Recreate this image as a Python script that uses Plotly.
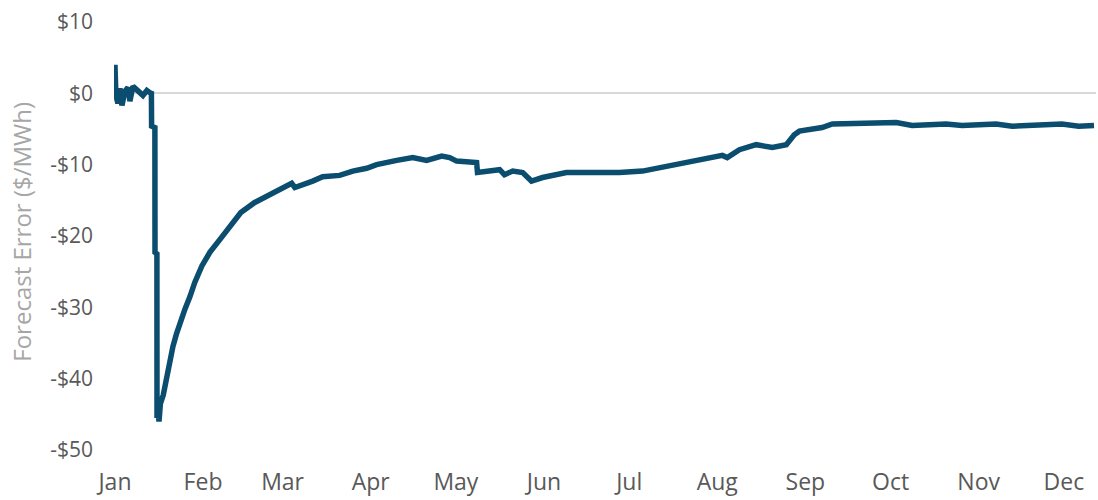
import pandas as pd
import plotly.graph_objects as go

# Day offsets from 1 Jan (fractional days) and forecast error ($/MWh)
days = [0.0, 0.35, 1.05, 1.76, 2.46, 3.52, 4.57, 5.27, 6.33, 7.38, 8.79, 9.85, 11.25, 12.31,
        12.83, 12.9, 14.06, 14.1, 14.77, 14.8, 15.2, 15.5, 16.0, 17.0, 17.6, 18.5, 19.3, 20.4,
        21.6, 22.9, 24.6, 26.4, 28.1, 30.6, 33.4, 36.9, 40.4, 44.3, 49.2, 54.5, 59.1, 62.2,
        63.3, 65.0, 69.6, 73.1, 79.1, 83.7, 88.6, 92.1, 96.7, 99.2, 104.8, 109.7, 115.0,
        117.8, 120.3, 127.3, 127.6, 131.9, 135.4, 137.1, 140.0, 143.5, 144.9, 146.6, 150.5,
        155.4, 158.9, 169.5, 177.6, 185.7, 194.1, 201.1, 209.2, 213.8, 215.5, 218.0, 219.8,
        225.7, 231.4, 236.3, 239.1, 240.9, 248.9, 252.5, 269.0, 275.0, 280.6, 292.5, 298.2,
        310.1, 315.8, 333.3, 339.2, 344.6]
errors = [4.0, -0.3, -1.4, 0.7, -1.7, 0.3, 0.8, -1.1, 1.0, 0.7, 0.1, -0.3, 0.4, 0.1,
          0.0, -4.6, -4.8, -22.3, -22.5, -45.5, -44.5, -46.0, -43.5, -42.3, -41.0, -39.6, -37.8, -35.5,
          -33.8, -32.1, -30.3, -28.5, -26.5, -24.2, -22.3, -20.5, -18.6, -16.7, -15.3, -14.2, -13.3, -12.6,
          -13.2, -13.0, -12.3, -11.7, -11.5, -10.9, -10.5, -10.0, -9.5, -9.4, -9.0, -9.4, -8.8,
          -9.0, -9.5, -9.7, -11.1, -10.9, -10.7, -11.4, -10.9, -11.1, -11.6, -12.3, -11.8,
          -11.4, -11.1, -11.1, -11.1, -10.9, -10.2, -9.7, -9.0, -8.7, -9.0, -8.3, -7.9,
          -7.2, -7.6, -7.2, -5.8, -5.3, -4.8, -4.3, -4.2, -4.1, -4.5, -4.3, -4.5,
          -4.3, -4.6, -4.3, -4.6, -4.5]

month_labels = ["Jan", "Feb", "Mar", "Apr", "May", "Jun", "Jul", "Aug", "Sep", "Oct", "Nov", "Dec"]
y_tick_values = [10, 0, -10, -20, -30, -40, -50]
y_tick_labels = ["$10", "$0", "-$10", "-$20", "-$30", "-$40", "-$50"]

start = pd.Timestamp("2023-01-01")
dates = [start + pd.Timedelta(days=d) for d in days]
month_starts = [pd.Timestamp(2023, m, 1) for m in range(1, 13)]

fig = go.Figure()
fig.add_trace(go.Scatter(
    x=dates, y=errors, mode="lines",
    line=dict(color="#0B4D6E", width=5.5),
    showlegend=False, hoverinfo="skip",
))

FONT = "Open Sans"
fig.update_layout(
    width=1098, height=500,
    margin=dict(l=114, r=2, t=22, b=50),
    paper_bgcolor="white", plot_bgcolor="white",
    font=dict(family=FONT, color="#595959"),
    xaxis=dict(
        type="date",
        range=[start - pd.Timedelta(hours=8), start + pd.Timedelta(days=345.3)],
        tickvals=month_starts, ticktext=month_labels,
        showgrid=False, zeroline=False, showline=False, ticks="",
        tickfont=dict(size=23, color="#595959", family=FONT),
        ticklabelstandoff=16, automargin=False,
    ),
    yaxis=dict(
        range=[-50, 10],
        tickvals=y_tick_values, ticktext=y_tick_labels,
        showgrid=False, zeroline=True, zerolinecolor="#D9D9D9", zerolinewidth=2,
        showline=False, ticks="",
        tickfont=dict(size=21, color="#595959", family=FONT),
        ticklabelstandoff=20, automargin=False,
    ),
    annotations=[dict(
        text="Forecast Error ($/MWh)", textangle=-90,
        xref="paper", yref="paper", x=(22 - 114) / 982, y=0.51,
        xanchor="center", yanchor="middle", showarrow=False,
        font=dict(size=24, color="#A6A6A6", family=FONT),
    )],
)

fig.write_html("out.html")
